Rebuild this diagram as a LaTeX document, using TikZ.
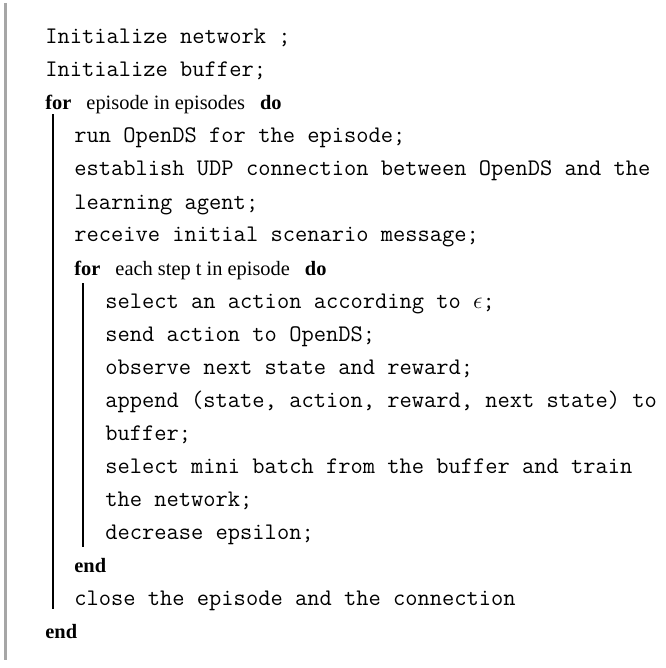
\documentclass[tikz,border=0pt]{standalone}
\usepackage{fontspec}
\setmainfont{Liberation Serif}
\begin{document}
\begin{tikzpicture}[x=0.5pt,y=-0.5pt]
		\tikzstyle{code}=[anchor=west,inner sep=0pt,text height=7pt,text depth=2pt,font=\ttfamily\fontsize{11.9}{13}\selectfont]
		\tikzstyle{kw}=[anchor=west,inner sep=0pt,text height=7pt,text depth=2pt,font=\fontsize{10.2}{12}\selectfont]
		\tikzstyle{bar}=[draw,line width=1pt,black]
		\useasboundingbox (0,0) rectangle (665,668);
		
		\node[code] (l0) at (45,39) {Initialize network ;};
		\node[code] (l1) at (45,72) {Initialize buffer;};
		\node[kw] (l2) at (45,105) {\textbf{for}\hspace{7.5pt}episode in episodes\hspace{7.5pt}\textbf{do}};
		\node[code] (l3) at (74,138) {run OpenDS for the episode;};
		\node[code] (l4) at (74,171) {establish UDP connection between OpenDS and the};
		\node[code] (l5) at (74,204) {learning agent;};
		\node[code] (l6) at (74,237) {receive initial scenario message;};
		\node[kw] (l7) at (74,270) {\textbf{for}\hspace{7.5pt}each step t in episode\hspace{7.5pt}\textbf{do}};
		\node[code] (l8) at (105,303) {select an action according to $\epsilon$;};
		\node[code] (l9) at (105,336) {send action to OpenDS;};
		\node[code] (l10) at (105,369) {observe next state and reward;};
		\node[code] (l11) at (105,402) {append (state, action, reward, next state) to};
		\node[code] (l12) at (105,435) {buffer;};
		\node[code] (l13) at (105,468) {select mini batch from the buffer and train};
		\node[code] (l14) at (105,501) {the network;};
		\node[code] (l15) at (105,534) {decrease epsilon;};
		\node[kw] (l16) at (74,567) {\textbf{end}};
		\node[code] (l17) at (74,600) {close the episode and the connection};
		\node[kw] (l18) at (45,633) {\textbf{end}};
		
		\coordinate (b0) at (5,0);
		\coordinate (b1) at (53,0);
		\coordinate (b2) at (83,0);
		
		\draw[gray!70, line width=1.5pt] (5,3) -- (5,660);
		\draw[bar] (b1 |- l2.south) -- (b1 |- l17.south);
		\draw[bar] ([yshift=-2pt]b2 |- l7.south) -- ([yshift=-2pt]b2 |- l15.south);
\end{tikzpicture}
\end{document}
